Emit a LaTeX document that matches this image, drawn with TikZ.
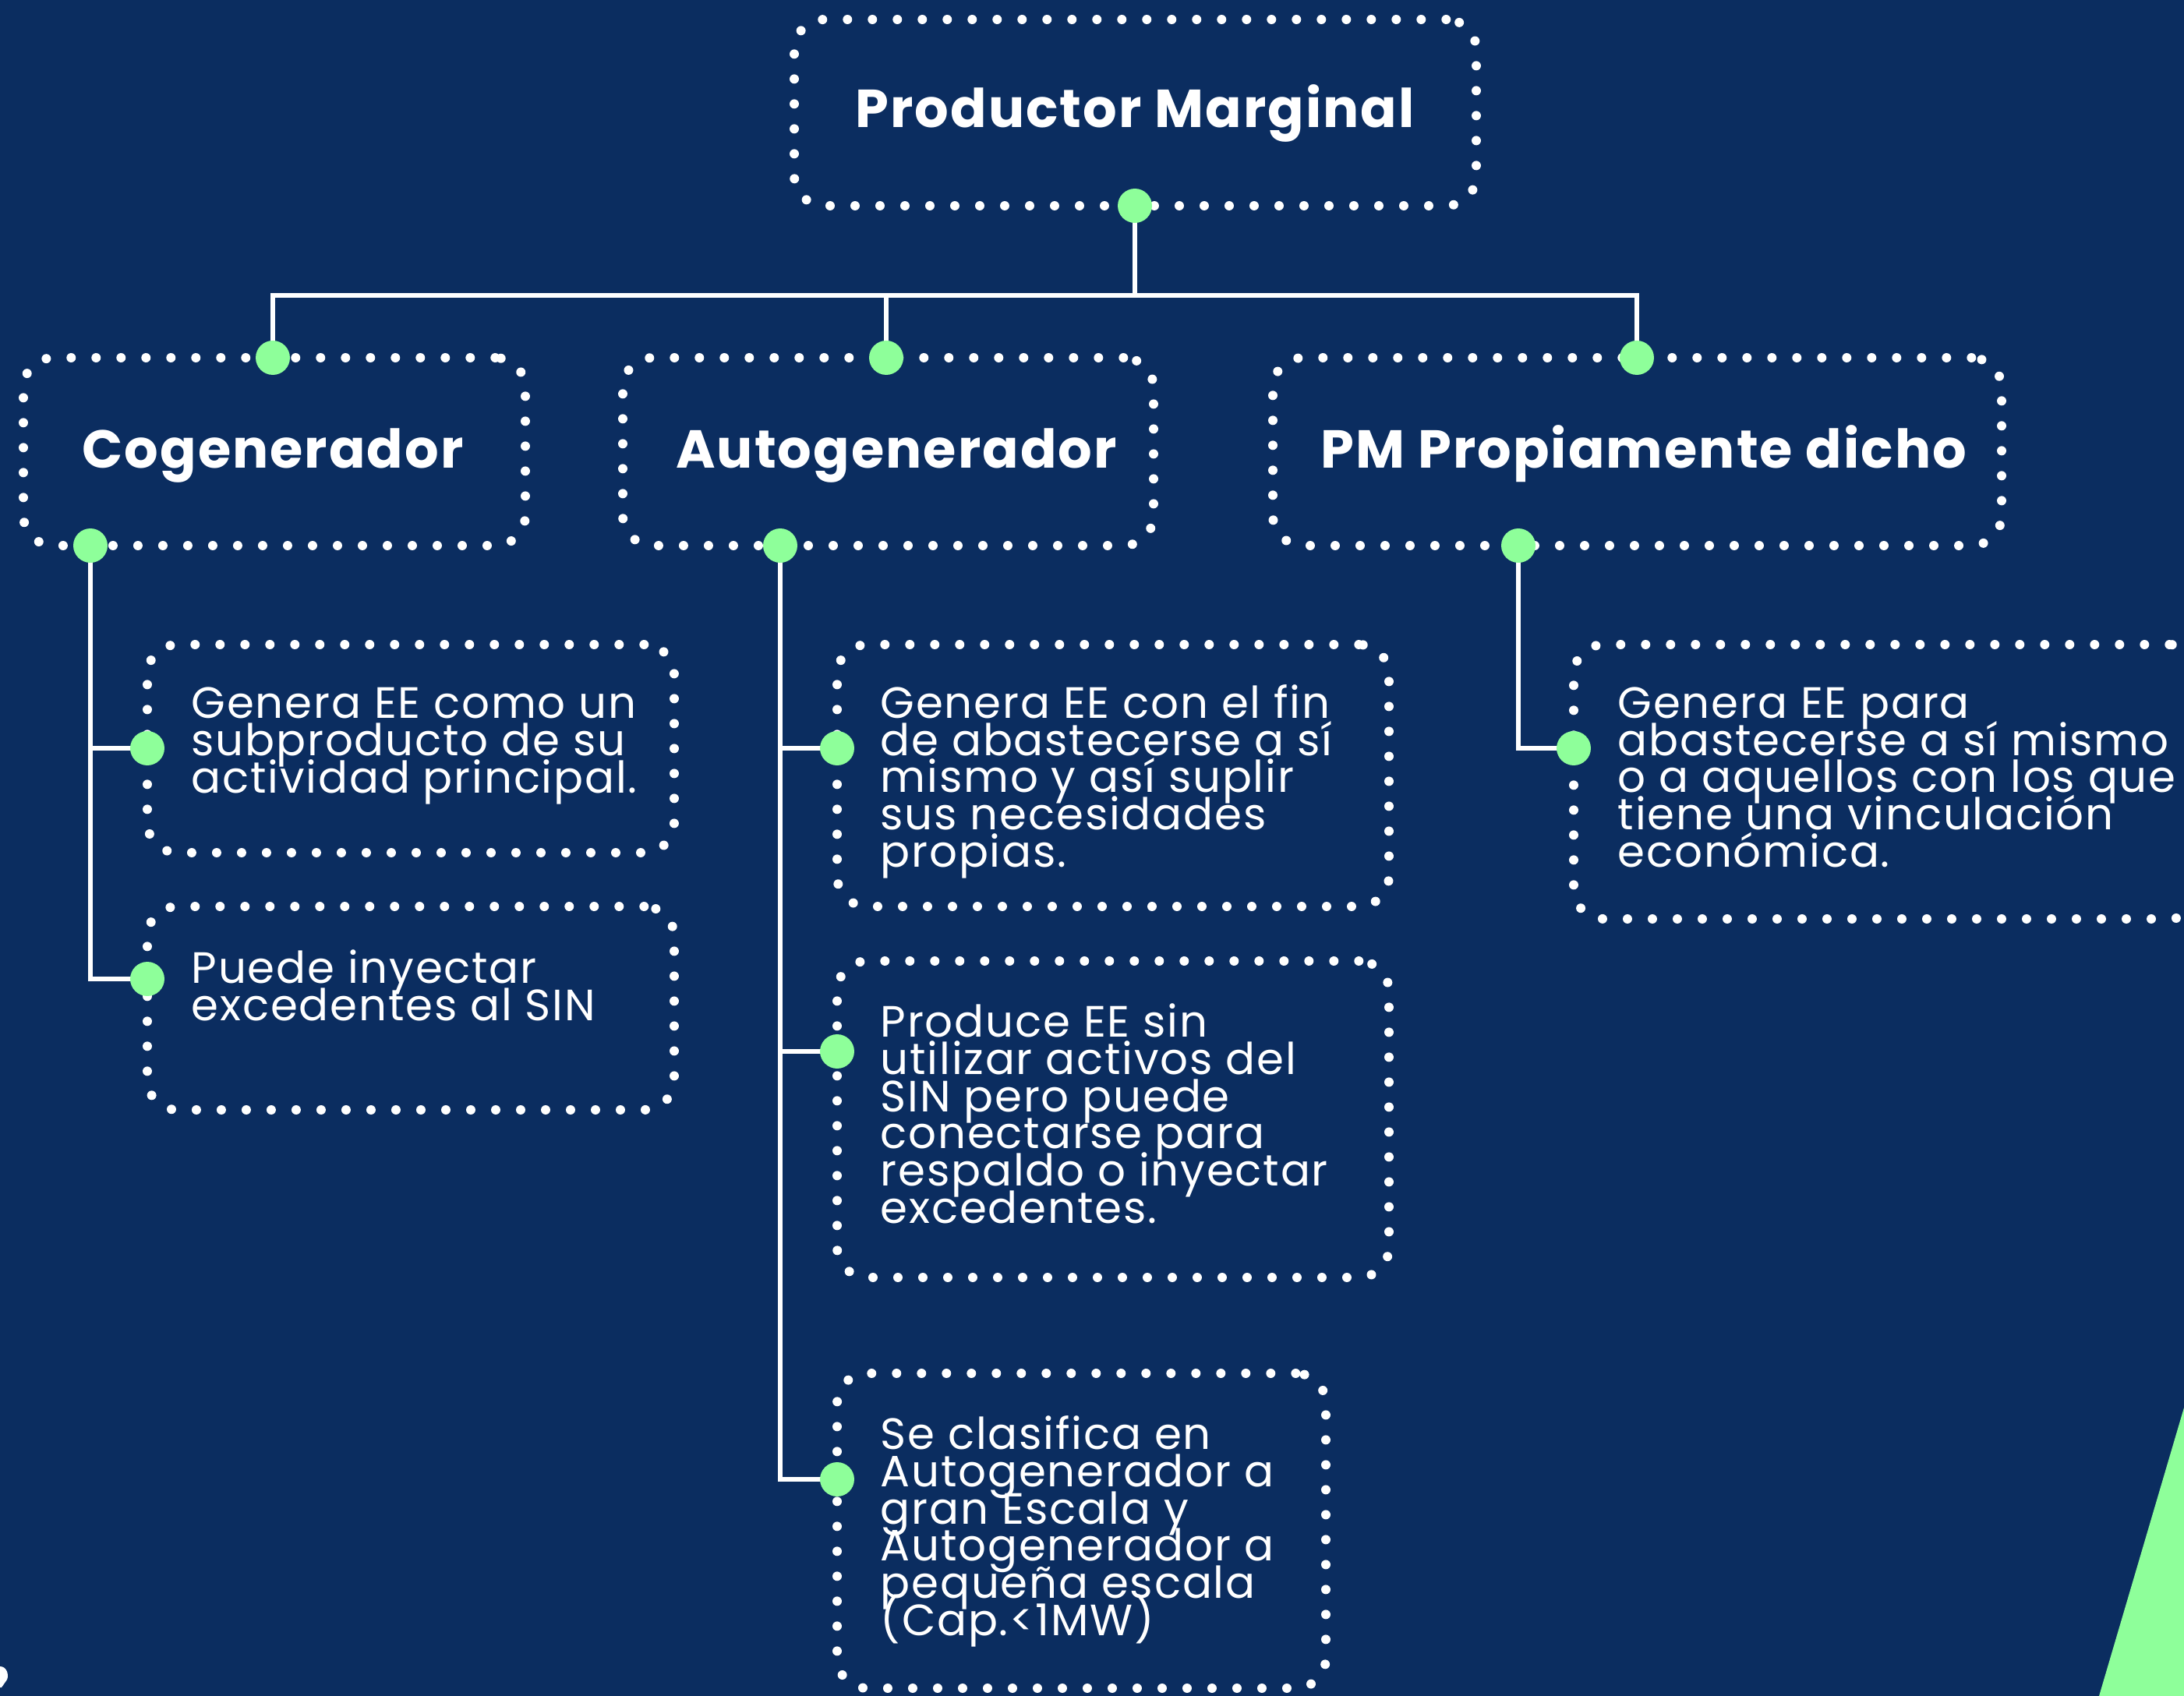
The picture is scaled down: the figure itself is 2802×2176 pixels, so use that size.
\documentclass[tikz,border=0pt]{standalone}
\usepackage{fontspec}
\setmainfont{Poppins}
\newfontfamily\headfont[LetterSpace=3]{Poppins}
\newfontfamily\bodyfont[LetterSpace=3.2]{Poppins}
\usetikzlibrary{fit,backgrounds}
\definecolor{navy}{RGB}{11,45,96}
\definecolor{mint}{RGB}{142,255,154}
\setlength{\lineskiplimit}{-100pt}
\setlength{\lineskip}{0pt}
\tikzset{
  boxd/.style={draw=white, line width=3.4pt, dash pattern=on 0pt off 9.1pt, line cap=round,
    rounded corners=11pt, inner sep=0pt},
  head/.style={text=white, inner sep=0pt, anchor=base,
    font=\headfont\fontsize{19.5pt}{22pt}\selectfont\bfseries},
  body/.style={text=white, inner sep=0pt, align=left, anchor=base west,
    font=\bodyfont\fontsize{16pt}{13.55pt}\selectfont},
  gdot/.style={circle, fill=mint, minimum size=12.5pt, inner sep=0pt},
  conn/.style={draw=white, line width=1.7pt}
}
\begin{document}
\begin{tikzpicture}[x=0.01cm, y=-0.01cm]
\useasboundingbox (0,0) rectangle (2802,2176);
\begin{scope}[on background layer]
\fill[navy] (0,0) rectangle (2802,2176);
\end{scope}
\clip (0,0) rectangle (2802,2176);
\fill[mint] (2802,1806) -- (2693,2176) -- (2802,2176) -- cycle;
\fill[white] (0,2138) .. controls (8,2138) and (12,2148) .. (9,2155) -- (2,2165) -- (0,2165) -- cycle;

% header boxes
\node[boxd, fit={(1019,25) (1894,264)}] (title) {};
\node[boxd, fit={(30,459) (674,700)}] (cog) {};
\node[boxd, fit={(799,459) (1480,700)}] (auto) {};
\node[boxd, fit={(1633,459) (2568,700)}] (pm) {};
\node[head] (titlet) at (1456,164) {Productor Marginal};
\node[head] (cogt) at (350,601) {Cogenerador};
\node[head] (autot) at (1150,601) {Autogenerador};
\node[head] (pmt) at (2109,601) {PM Propiamente dicho};

% child boxes
\node[boxd, fit={(189,827) (865,1094)}] (c1) {};
\node[boxd, fit={(189,1163) (865,1424)}] (c2) {};
\node[boxd, fit={(1074,827) (1782,1163)}] (a1) {};
\node[boxd, fit={(1074,1233) (1782,1639)}] (a2) {};
\node[boxd, fit={(1074,1762) (1701,2166)}] (a3) {};
\node[boxd, fit={(2019,827) (2822,1179)}] (p1) {};

% texts (anchor = baseline of the last line)
\node[body] (c1t) at (245,1017) {Genera EE como un\\subproducto de su\\actividad principal.};
\node[body] (c2t) at (245,1309) {Puede inyectar\\excedentes al SIN};
\node[body] (a1t) at (1129,1112) {Genera EE con el fin\\de abastecerse a sí\\mismo y así suplir\\sus necesidades\\propias.};
\node[body] (a2t) at (1129,1569) {Produce EE sin\\utilizar activos del\\SIN pero puede\\conectarse para\\respaldo o inyectar\\excedentes.};
\node[body] (a3t) at (1129,2098) {Se clasifica en\\Autogenerador a\\gran Escala y\\Autogenerador a\\pequeña escala\\(Cap.<1MW)};
\node[body] (p1t) at (2075,1112) {Genera EE para\\abastecerse a sí mismo\\o a aquellos con los que\\tiene una vinculación\\económica.};

% green dots
\node[gdot] (tdot) at (1456,264) {};
\node[gdot] (cogtop) at (350,459) {};
\node[gdot] (autotop) at (1137,459) {};
\node[gdot] (pmtop) at (2100,459) {};
\node[gdot] (cogbot) at (116,700) {};
\node[gdot] (autobot) at (1001,700) {};
\node[gdot] (pmbot) at (1948,700) {};
\node[gdot] (c1dot) at (189,960) {};
\node[gdot] (c2dot) at (189,1256) {};
\node[gdot] (a1dot) at (1074,960) {};
\node[gdot] (a2dot) at (1074,1349) {};
\node[gdot] (a3dot) at (1074,1898) {};
\node[gdot] (p1dot) at (2019,960) {};
\coordinate (bus) at (1456,379);

\begin{scope}[on background layer]
\draw[conn] (tdot.center) -- (bus);
\draw[conn] (cogtop.center) |- (bus) -| (pmtop.center);
\draw[conn] (autotop.center) -- (autotop.center |- bus);
\draw[conn] (cogbot.center) |- (c2dot.center);
\draw[conn] (cogbot.center |- c1dot.center) -- (c1dot.center);
\draw[conn] (autobot.center) |- (a3dot.center);
\draw[conn] (autobot.center |- a1dot.center) -- (a1dot.center);
\draw[conn] (autobot.center |- a2dot.center) -- (a2dot.center);
\draw[conn] (pmbot.center) |- (p1dot.center);
\end{scope}
\end{tikzpicture}
\end{document}
